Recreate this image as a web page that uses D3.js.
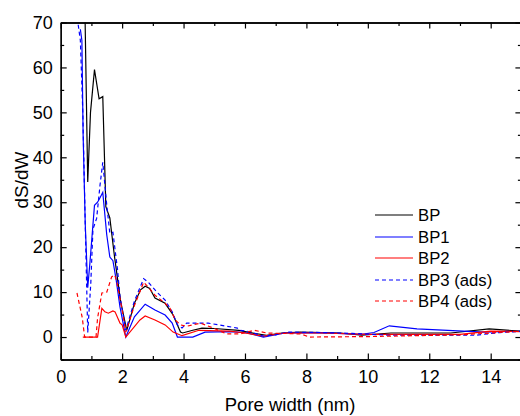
<!DOCTYPE html>
<html><head><meta charset="utf-8">
<script src="https://cdn.jsdelivr.net/npm/d3@7/dist/d3.min.js"></script>
<style>body{margin:0;background:#fff}svg{display:block}text{font-family:"Liberation Sans",Arial,sans-serif}</style>
</head><body>
<script>
const seriesNames = ["BP","BP1","BP2","BP3 (ads)","BP4 (ads)"];
const seriesColors = ["#000000","#0000ff","#ff0000","#0000ff","#ff0000"];
const seriesDashed = [false,false,false,true,true];
const xTicks = [0,2,4,6,8,10,12,14];
const yTicks = [0,10,20,30,40,50,60,70];

const BP = [[0.76,85],[0.88,34.5],[0.97,50],[1.1,59.5],[1.25,53],[1.37,53.5],[1.47,29],[1.6,26.5],[1.75,18],[1.95,8],[2.15,1.5],[2.4,7.5],[2.6,10.5],[2.75,11.3],[2.9,10.8],[3.07,8.7],[3.4,7.5],[3.66,4.9],[3.9,1.1],[3.97,0.9],[4.3,1.5],[4.6,2.0],[5.0,1.9],[5.8,1.5],[6.3,0.8],[6.7,0.4],[7.2,0.9],[7.8,1.1],[8.5,1.0],[9.1,0.9],[9.8,0.4],[10.75,0.9],[12.7,0.9],[13.95,1.8],[15,1.3]];
const BP1 = [[0.64,68.5],[0.69,66],[0.73,45],[0.8,25],[0.88,11],[0.95,16.4],[1.1,29.3],[1.2,30],[1.28,31],[1.37,32.2],[1.5,22.7],[1.6,17.8],[1.7,17],[1.8,13],[1.93,6.7],[2.12,0],[2.4,4.5],[2.75,7.3],[3.07,6],[3.4,4.9],[3.63,3.1],[3.8,0],[4.3,0],[4.7,1.1],[5.5,1.2],[6.0,1.0],[6.6,0],[7.3,0.9],[8.5,1.0],[9.8,0.6],[10.2,1.0],[10.7,2.5],[11.6,1.8],[13.1,1.3],[13.8,1.1],[15,1.3]];
const BP2 = [[0.72,0],[1.2,0],[1.34,6.4],[1.44,5.6],[1.55,5.3],[1.7,5.8],[1.77,5.6],[1.93,3.1],[2.0,2.7],[2.12,0],[2.58,3.8],[2.75,4.7],[3.07,3.8],[3.4,2.7],[3.66,1.1],[3.95,0.3],[4.5,1.5],[5.5,1.3],[6.0,0.9],[6.6,0.2],[7.3,0.9],[8.5,0.9],[10,0.6],[13,0.6],[14,1.3],[15,1.2]];
const BP3 = [[0.57,69.5],[0.64,66],[0.72,50],[0.79,28],[0.88,1],[0.98,12],[1.05,24],[1.17,26.4],[1.28,33.8],[1.37,38.9],[1.5,29.3],[1.6,23.1],[1.7,23.3],[1.85,15],[1.93,9],[2.12,1.5],[2.4,8],[2.7,13],[2.85,12.2],[3.13,10],[3.4,8.2],[3.63,5.6],[3.8,2.7],[3.95,2],[4.1,3.1],[4.5,3.1],[4.8,3.1],[5.75,2],[5.85,1.5],[6.2,1.1],[6.6,0.2],[7.0,0.5],[7.4,1.1],[8.5,1.0],[9.5,0.8],[10.7,0.4],[13.5,0.4],[14.3,1.0],[15,1.3]];
const BP4 = [[0.53,9.8],[0.7,4.4],[0.78,0],[1.15,0],[1.2,4.2],[1.34,9.8],[1.5,10],[1.66,13.4],[1.76,13.8],[1.83,12.2],[2.0,6],[2.12,1.1],[2.4,7],[2.7,12.2],[2.85,11.1],[3.07,9.3],[3.4,7.5],[3.56,6.4],[3.73,3.8],[3.9,2.7],[4.1,2.4],[4.55,3.1],[4.97,2.0],[5.4,0.7],[5.85,0.7],[6.3,1.5],[6.7,0.9],[7.8,0.7],[8.1,0],[10,0.1],[13,0.5],[14.5,1.1],[15,1.3]];
const seriesData = [BP,BP1,BP2,BP3,BP4];

const W=520,H=416;
const L=60.7,R=521.4,T=22.5,B=359.5;
const svg=d3.select("body").append("svg").attr("width",W).attr("height",H);
const x=d3.scaleLinear().domain([0,15]).range([L,R]);
const y=d3.scaleLinear().domain([-5,70]).range([B,T]);

svg.append("clipPath").attr("id","clip").append("rect").attr("x",L).attr("y",T).attr("width",R-L).attr("height",B-T);

const line=d3.line().x(d=>x(d[0])).y(d=>y(d[1]));
const g=svg.append("g").attr("clip-path","url(#clip)");
seriesData.forEach((s,i)=>{
  g.append("path").datum(s).attr("d",line).attr("fill","none")
   .attr("stroke",seriesColors[i]).attr("stroke-width",1.2)
   .attr("stroke-dasharray",seriesDashed[i]?"4,3":null);
});

// axes
const xMinor=d3.range(0,16,1), yMinor=d3.range(-5,71,5);
const axB=d3.axisBottom(x).tickValues(xTicks).tickSizeInner(-6).tickSizeOuter(0).tickPadding(11).tickFormat(d3.format("d"));
const axBm=d3.axisBottom(x).tickValues(xMinor.filter(v=>v%2)).tickSizeInner(-3.5).tickSizeOuter(0).tickFormat("");
const axT=d3.axisTop(x).tickValues(xTicks).tickSizeInner(-6).tickSizeOuter(0).tickFormat("");
const axTm=d3.axisTop(x).tickValues(xMinor.filter(v=>v%2)).tickSizeInner(-3.5).tickSizeOuter(0).tickFormat("");
const axL=d3.axisLeft(y).tickValues(yTicks).tickSizeInner(-6).tickSizeOuter(0).tickPadding(8).tickFormat(d3.format("d"));
const axLm=d3.axisLeft(y).tickValues(yMinor.filter(v=>v%10)).tickSizeInner(-3.5).tickSizeOuter(0).tickFormat("");
const axR=d3.axisRight(y).tickValues(yTicks).tickSizeInner(-6).tickSizeOuter(0).tickFormat("");
const axRm=d3.axisRight(y).tickValues(yMinor.filter(v=>v%10)).tickSizeInner(-3.5).tickSizeOuter(0).tickFormat("");
[[axB,`translate(0,${B})`],[axBm,`translate(0,${B})`],[axT,`translate(0,${T})`],[axTm,`translate(0,${T})`],
 [axL,`translate(${L},0)`],[axLm,`translate(${L},0)`],[axR,`translate(${R},0)`],[axRm,`translate(${R},0)`]].forEach(([a,t])=>{
  const gg=svg.append("g").attr("transform",t).call(a);
  gg.selectAll("path.domain").attr("stroke","#000").attr("stroke-width",1.3);
  gg.selectAll("line").attr("stroke","#000").attr("stroke-width",1.2);
  gg.selectAll("text").attr("font-size",18).attr("fill","#000").style("font-family","Liberation Sans, Arial, sans-serif");
});

svg.append("text").attr("x",(L+R)/2-1).attr("y",411).attr("text-anchor","middle").attr("font-size",18.5).text("Pore width (nm)");
svg.append("text").attr("transform","translate(28,180) rotate(-90)").attr("text-anchor","middle").attr("font-size",19).text("dS/dW");

// legend
const legY=[215,237,258,280,301];
seriesNames.forEach((n,i)=>{
  svg.append("line").attr("x1",375).attr("x2",413).attr("y1",legY[i]).attr("y2",legY[i])
    .attr("stroke",seriesColors[i]).attr("stroke-width",1.2).attr("stroke-dasharray",seriesDashed[i]?"4,3":null);
  svg.append("text").attr("x",418).attr("y",legY[i]+6).attr("font-size",16.7).text(n);
});
</script>
</body></html>
